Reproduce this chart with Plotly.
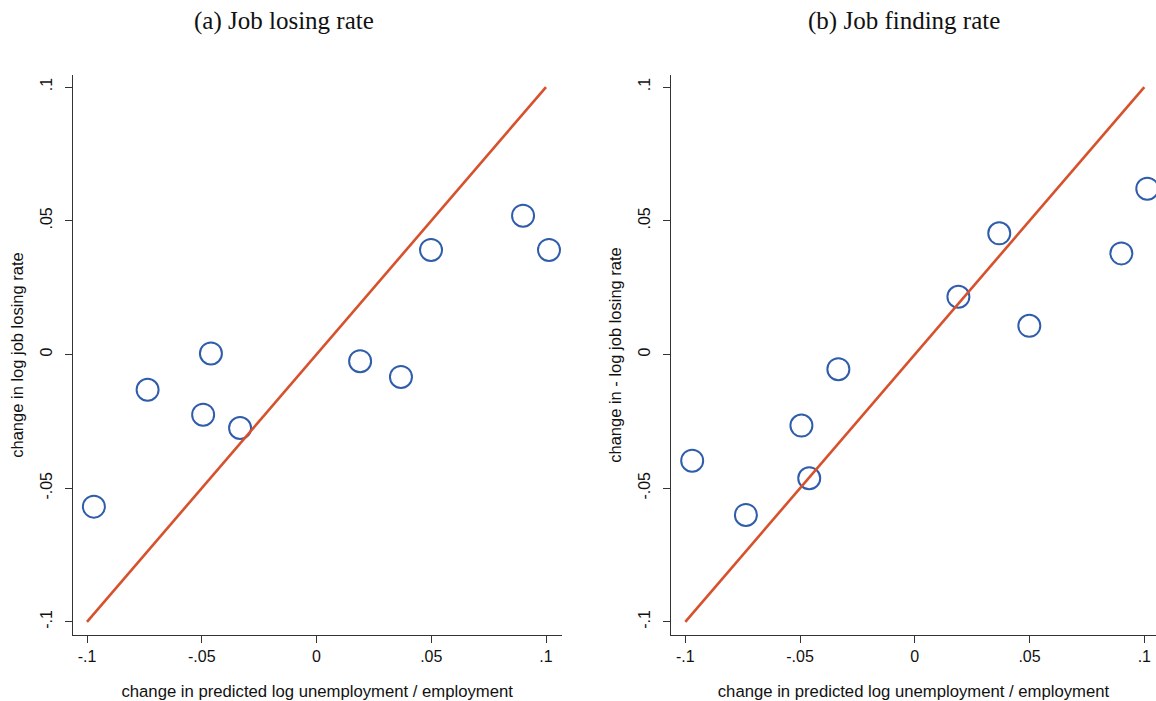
import plotly.graph_objects as go

# ---- data ----
pred_change = [-0.0970, -0.0736, -0.0494, -0.0460, -0.0333, 0.0190, 0.0368, 0.0499, 0.0900, 0.1013]
losing_change = [-0.0569, -0.0132, -0.0225, 0.0004, -0.0275, -0.0025, -0.0084, 0.0391, 0.0519, 0.0391]
finding_change = [-0.0397, -0.0600, -0.0266, -0.0463, -0.0055, 0.0216, 0.0453, 0.0107, 0.0378, 0.0620]
diag_x = [-0.1, 0.1]
diag_y = [-0.1, 0.1]
tick_vals = [-0.1, -0.05, 0, 0.05, 0.1]
tick_text = ["-.1", "-.05", "0", ".05", ".1"]
panel_titles = ["(a) Job losing rate", "(b) Job finding rate"]
x_title = "change in predicted log unemployment / employment"
y_titles = ["change in log job losing rate", "change in - log job losing rate"]

W, H = 1156, 701
MARKER_COLOR = "#2f5dab"
LINE_COLOR = "#d6512c"
AXIS_COLOR = "#333333"
FONT = "Liberation Sans, Arial, sans-serif"

fig = go.Figure()

for i, yvals in enumerate([losing_change, finding_change]):
    xa = "x" if i == 0 else "x2"
    ya = "y" if i == 0 else "y2"
    fig.add_trace(go.Scatter(
        x=pred_change, y=yvals, mode="markers", xaxis=xa, yaxis=ya,
        marker=dict(symbol="circle-open", size=22, color=MARKER_COLOR,
                    line=dict(width=2, color=MARKER_COLOR)),
        showlegend=False, hoverinfo="x+y"))
    fig.add_trace(go.Scatter(
        x=diag_x, y=diag_y, mode="lines", xaxis=xa, yaxis=ya,
        line=dict(color=LINE_COLOR, width=2.6),
        showlegend=False, hoverinfo="skip"))

common_axis = dict(
    showgrid=False, zeroline=False, showline=True, linecolor=AXIS_COLOR, linewidth=1.3,
    ticks="outside", ticklen=7, tickwidth=1.2, tickcolor=AXIS_COLOR,
    tickvals=tick_vals, ticktext=tick_text, automargin=False,
    tickfont=dict(family=FONT, size=16, color="#111111"),
)

y_range = [-0.1049, 0.1045]

fig.update_layout(
    width=W, height=H,
    margin=dict(l=0, r=0, t=75, b=66),
    paper_bgcolor="white", plot_bgcolor="white",
    font=dict(family=FONT, size=16, color="#111111"),
    xaxis=dict(common_axis, domain=[72.7 / W, 561.7 / W], range=[-0.10623, 0.10684],
               anchor="y",
               title=dict(text=x_title, font=dict(family=FONT, size=16.7), standoff=20)),
    yaxis=dict(common_axis, domain=[0, 1], range=y_range, anchor="x",
               tickangle=-90, ticklabelstandoff=6,
               title=dict(text=y_titles[0], font=dict(family=FONT, size=16.5), standoff=10)),
    xaxis2=dict(common_axis, domain=[671.0 / W, 1.0], range=[-0.10623, 0.10510],
                anchor="y2",
                title=dict(text=x_title, font=dict(family=FONT, size=16.7), standoff=20)),
    yaxis2=dict(common_axis, domain=[0, 1], range=y_range, anchor="x2",
                tickangle=-90, ticklabelstandoff=6,
                title=dict(text=y_titles[1], font=dict(family=FONT, size=16.5), standoff=10)),
)

title_x = [284 / W, 904 / W]
for t, xp in zip(panel_titles, title_x):
    fig.add_annotation(
        text=t, xref="paper", yref="paper", x=xp, y=1 + (75 - 21) / (H - 75 - 66),
        xanchor="center", yanchor="middle", showarrow=False,
        font=dict(family="Liberation Serif, Times New Roman, serif", size=25, color="#111111"))

fig.write_html("out.html")
